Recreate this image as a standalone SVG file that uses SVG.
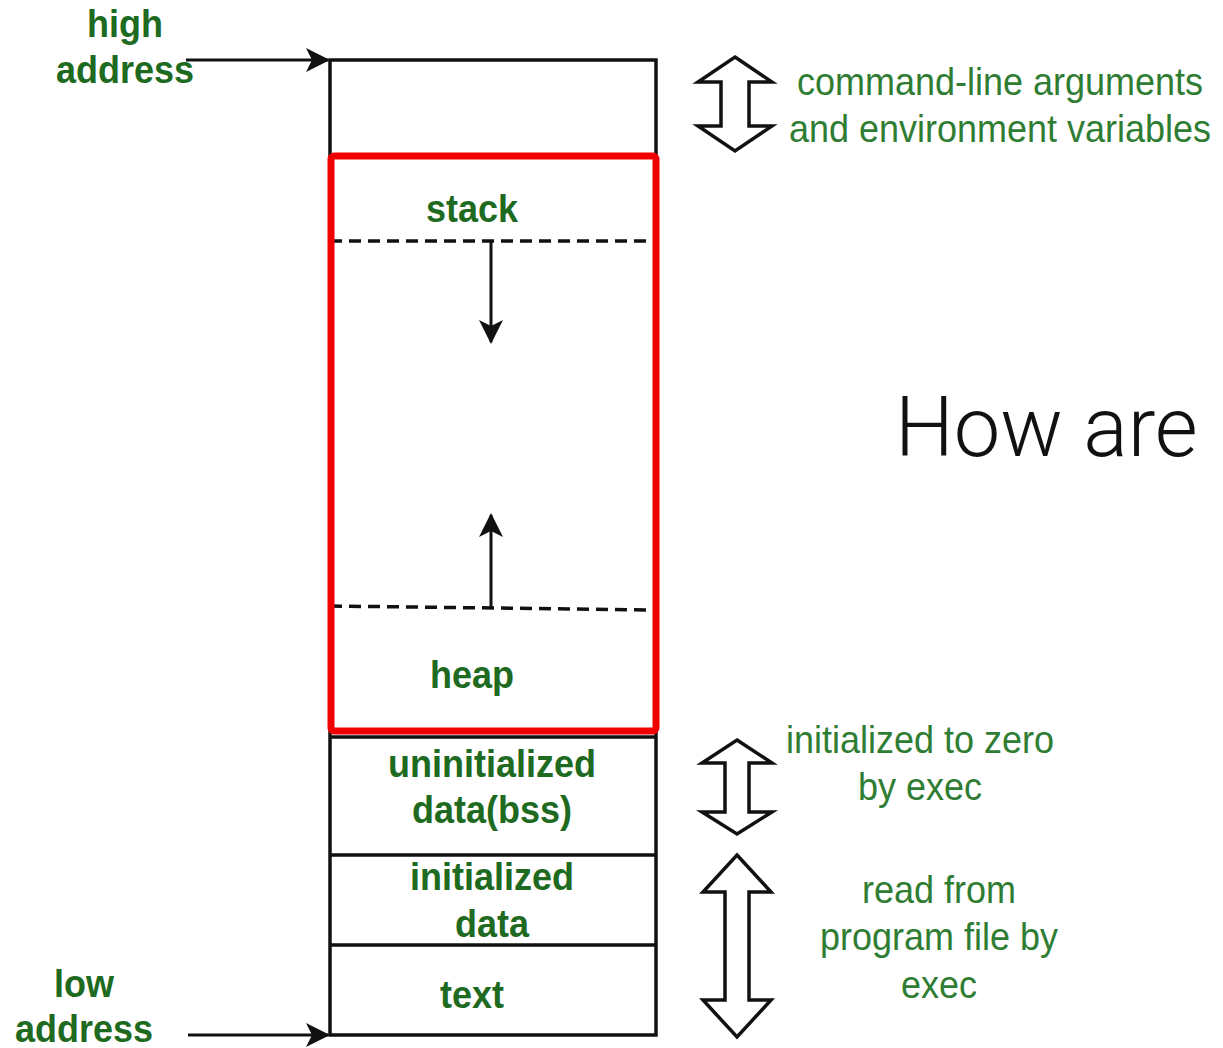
<svg xmlns="http://www.w3.org/2000/svg" width="1223" height="1048" viewBox="0 0 1223 1048">
  <style>
    .lbl { font-family: "Liberation Sans", Arial, sans-serif; font-size: 36px; text-anchor: middle; }
    .bold { font-weight: bold; fill: #1d6a20; }
    .note { font-weight: normal; fill: #2f7d33; }
    .title { font-family: Roboto, "Liberation Sans", sans-serif; font-weight: 300; font-size: 83px; fill: #111; }
    .wall { fill: none; stroke: #111; stroke-width: 3.5; }
    .dash { fill: none; stroke: #111; stroke-width: 3.5; stroke-dasharray: 12 7; }
    .ptr { fill: none; stroke: #111; stroke-width: 3; marker-end: url(#head); }
    .span { fill: #fff; stroke: #111; stroke-width: 3.5; stroke-linejoin: miter; }
  </style>
  <defs>
    <marker id="head" viewBox="0 0 24 24" refX="22" refY="12" markerWidth="24" markerHeight="24" markerUnits="userSpaceOnUse" orient="auto">
      <path d="M0,0 L24,12 L0,24 L6,12 z" fill="#111"/>
    </marker>
  </defs>

  <rect width="1223" height="1048" fill="#fff"/>

  <!-- memory column outline and segment dividers -->
  <g id="column">
    <path class="wall" d="M330,60 H656 V1035 H330 Z"/>
    <line class="wall" x1="330" y1="737" x2="656" y2="737"/>
    <line class="wall" x1="330" y1="855" x2="656" y2="855"/>
    <line class="wall" x1="330" y1="945" x2="656" y2="945"/>
  </g>

  <g id="stack-segment">
    <text class="lbl bold" transform="translate(472,222) scale(1,1.1)">stack</text>
  </g>

  <g id="heap-segment">
    <text class="lbl bold" transform="translate(472,688) scale(1,1.1)">heap</text>
  </g>

  <g id="bss-segment">
    <text class="lbl bold" transform="translate(492,777) scale(1,1.1)">uninitialized</text>
    <text class="lbl bold" transform="translate(492,823) scale(1,1.1)">data(bss)</text>
  </g>

  <g id="data-segment">
    <text class="lbl bold" transform="translate(492,890) scale(1,1.1)">initialized</text>
    <text class="lbl bold" transform="translate(492,937) scale(1,1.1)">data</text>
  </g>

  <g id="text-segment">
    <text class="lbl bold" transform="translate(472,1008) scale(1,1.1)">text</text>
  </g>

  <g id="high-address">
    <text class="lbl bold" transform="translate(125,37) scale(1,1.1)">high</text>
    <text class="lbl bold" transform="translate(125,83) scale(1,1.1)">address</text>
  </g>

  <g id="low-address">
    <text class="lbl bold" transform="translate(84,997) scale(1,1.1)">low</text>
    <text class="lbl bold" transform="translate(84,1042) scale(1,1.1)">address</text>
  </g>

  <!-- growth boundaries and pointers -->
  <g id="connectors">
    <line class="dash" x1="330" y1="241" x2="656" y2="241"/>
    <line class="dash" x1="330" y1="606" x2="656" y2="610"/>
    <line class="ptr" x1="491" y1="241" x2="491" y2="342"/>
    <line class="ptr" x1="491" y1="607" x2="491" y2="515"/>
    <line class="ptr" x1="186" y1="60" x2="328" y2="60"/>
    <line class="ptr" x1="188" y1="1035" x2="328" y2="1035"/>
  </g>

  <!-- highlighted stack/heap region -->
  <rect id="highlight" x="331" y="156" width="325" height="575" rx="3" fill="none" stroke="#f00000" stroke-width="7"/>

  <!-- range arrows with notes -->
  <g id="args-note">
    <polygon class="span" points="735,57 772,82 749,82 749,126 772,126 735,151 698,126 721,126 721,82 698,82"/>
    <text class="lbl note" transform="translate(1000,95) scale(1,1.1)">command-line arguments</text>
    <text class="lbl note" transform="translate(1000,142) scale(1,1.1)">and environment variables</text>
  </g>

  <g id="bss-note">
    <polygon class="span" points="737,740 772,763 749,763 749,812 772,812 737,834 702,812 725,812 725,763 702,763"/>
    <text class="lbl note" transform="translate(920,753) scale(1,1.1)">initialized to zero</text>
    <text class="lbl note" transform="translate(920,800) scale(1,1.1)">by exec</text>
  </g>

  <g id="file-note">
    <polygon class="span" points="737,855 771,892 749,892 749,1000 771,1000 737,1037 703,1000 725,1000 725,892 703,892"/>
    <text class="lbl note" transform="translate(939,903) scale(1,1.1)">read from</text>
    <text class="lbl note" transform="translate(939,950) scale(1,1.1)">program file by</text>
    <text class="lbl note" transform="translate(939,998) scale(1,1.1)">exec</text>
  </g>

  <text class="title" x="895" y="456">How are</text>
</svg>
